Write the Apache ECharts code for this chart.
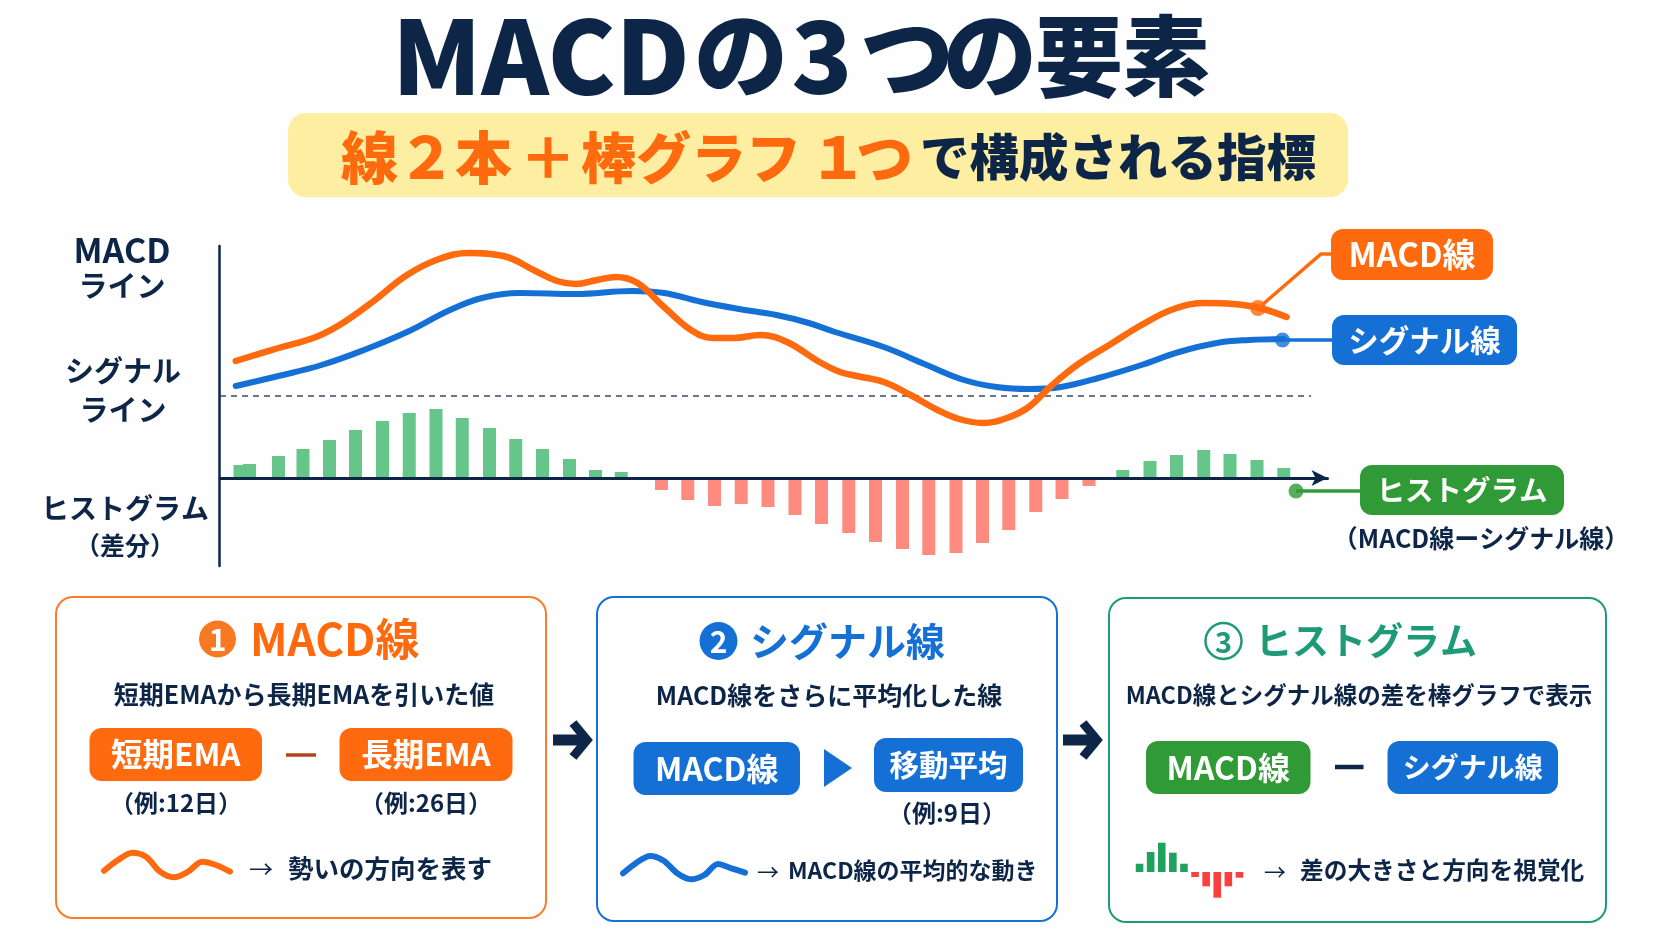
<!DOCTYPE html>
<html>
<head>
<meta charset="utf-8">
<title>MACDの3つの要素</title>
<style>
html, body { margin: 0; padding: 0; background: #fefefe; }
#chart { width: 1672px; height: 941px; }
</style>
<script src="https://cdn.jsdelivr.net/npm/echarts@6/dist/echarts.min.js"></script>
</head>
<body>
<div id="chart"></div>
<script>
// values: [period, value]
var macdLine = [[0.63,1.17],[2.34,1.30],[3.84,1.41],[4.91,1.55],[6.2,1.78],[7.48,2.03],[8.76,2.19],[9.95,2.25],[11.34,2.22],[12.62,2.07],[13.48,1.97],[14.23,1.94],[15.08,1.98],[15.84,2.01],[16.7,1.95],[17.76,1.71],[18.84,1.48],[19.7,1.40],[20.55,1.40],[21.62,1.43],[22.68,1.36],[23.98,1.16],[24.8,1.06],[25.48,1.02],[26.55,0.96],[27.62,0.83],[28.7,0.68],[29.56,0.59],[30.52,0.55],[31.48,0.60],[32.35,0.71],[33.2,0.91],[34.28,1.13],[35.57,1.33],[36.86,1.53],[38.15,1.69],[39.44,1.75],[40.51,1.74],[41.58,1.70],[42.66,1.61]];
var signalLine = [[0.63,0.92],[2.34,1.02],[4.06,1.13],[5.76,1.28],[7.48,1.46],[9.2,1.68],[10.48,1.80],[11.98,1.85],[14.23,1.84],[16.48,1.87],[17.76,1.85],[19.27,1.76],[20.76,1.69],[22.26,1.63],[23.55,1.55],[24.6,1.46],[26.55,1.31],[28.27,1.13],[29.76,0.98],[31.06,0.91],[32.35,0.89],[33.64,0.91],[35.14,1.00],[36.86,1.13],[38.36,1.26],[39.87,1.35],[41.16,1.38],[42.55,1.39]];
var histPeriods = [0.8,1.18,2.34,3.32,4.38,5.42,6.5,7.57,8.64,9.69,10.78,11.83,12.9,13.98,15.02,16.05,17.66,18.71,19.78,20.85,21.92,23,24.06,25.15,26.22,27.3,28.35,29.44,30.5,31.55,32.63,33.68,34.76,36.11,37.2,38.26,39.35,40.4,41.48,42.55];
var histValues = [0.13,0.14,0.22,0.29,0.38,0.48,0.57,0.65,0.69,0.60,0.50,0.39,0.29,0.19,0.08,0.06,-0.12,-0.22,-0.28,-0.26,-0.29,-0.37,-0.46,-0.55,-0.64,-0.71,-0.77,-0.75,-0.65,-0.52,-0.34,-0.21,-0.08,0.08,0.17,0.23,0.28,0.24,0.18,0.10];
var dashedLevel = [[0,0.82],[43.64,0.82]];
var macdDot = [[41.52,1.70]];
var signalDot = [[42.5,1.38]];
var histDot = [[43.04,-0.13]];

// small decorations inside the cards
var waveOrange = [9.3,20,27.3,23.3,8.3,2.7,8.3,18.3,15,8.3];
var waveBlue = [11.7,22.3,29,24.3,11.7,5.7,10,21,16.7,12.3];
var miniHist = [8.3,20,29.3,19.3,8.3,-5,-14.3,-25.7,-14.3,-5.7];
var miniCats = ['1','2','3','4','5','6','7','8','9','10'];

var ORANGE = '#ff6a0e', BLUE = '#1570d6', GREEN = '#2f9a36', TEAL = '#1f9a78', NAVY = '#0d2647';
var FONT = '"Noto Sans CJK JP", "Noto Sans", sans-serif';

function txt(x, y, text, size, color, align, weight) {
    return {
        type: 'text', z: 20,
        style: {
            x: x, y: y, text: text, fill: color,
            font: (weight || 'bold') + ' ' + size + 'px ' + FONT,
            align: align || 'center', verticalAlign: 'middle'
        }
    };
}
function box(x0, y0, x1, y1, color, r) {
    return {
        type: 'rect', z: 10,
        shape: { x: x0, y: y0, width: x1 - x0, height: y1 - y0, r: r || 12 },
        style: { fill: color }
    };
}
function labelBox(x0, y0, x1, y1, color, text, size) {
    return [box(x0, y0, x1, y1, color), txt((x0 + x1) / 2, (y0 + y1) / 2, text, size, '#fff')];
}
function card(x0, y0, x1, y1, color) {
    return {
        type: 'rect', z: 1,
        shape: { x: x0, y: y0, width: x1 - x0, height: y1 - y0, r: 17 },
        style: { fill: '#fff', stroke: color, lineWidth: 2 }
    };
}
function poly(points, color, width) {
    return {
        type: 'polyline', z: 9,
        shape: { points: points },
        style: { stroke: color, lineWidth: width, fill: null }
    };
}
function bigArrow(x) {
    return [
        poly([[x, 740], [x + 32, 740]], NAVY, 11),
        poly([[x + 20, 723], [x + 34, 740], [x + 20, 757]], NAVY, 9)
    ];
}

var g = [].concat(
    // header
    txt(392, 56, 'MACD', 102, NAVY, 'left', '900'),
    txt(741, 54, 'の', 94, NAVY, 'center', '900'),
    txt(822, 56, '3', 100, NAVY, 'center', '900'),
    txt(907, 56, 'つ', 94, NAVY, 'center', '900'),
    txt(990, 54, 'の', 94, NAVY, 'center', '900'),
    txt(1079, 56, '要', 88, NAVY, 'center', '900'),
    txt(1166, 56, '素', 88, NAVY, 'center', '900'),
    box(288, 113, 1348, 197, '#fdeea2', 18),
    txt(341, 157, '線２本', 57, ORANGE, 'left', '900'),
    txt(548, 157, '＋', 57, ORANGE, 'center', '900'),
    txt(581, 157, '棒グラフ', 55, ORANGE, 'left', '900'),
    txt(838, 157, '１', 57, ORANGE, 'center', '900'),
    txt(856, 157, 'つ', 57, ORANGE, 'left', '900'),
    txt(920, 157, 'で構成される指標', 49.5, NAVY, 'left', '900'),

    // axis captions
    txt(122, 250, 'MACD', 34, NAVY),
    txt(122, 286, 'ライン', 29, NAVY),
    txt(123, 371, 'シグナル', 29, NAVY),
    txt(123, 410, 'ライン', 29, NAVY),
    txt(125, 508, 'ヒストグラム', 28, NAVY),
    txt(125, 545, '（差分）', 25, NAVY),

    // callouts
    poly([[1331, 254], [1321, 254], [1262, 305]], ORANGE, 3.5),
    labelBox(1331, 229, 1493, 280, ORANGE, 'MACD線', 33),
    poly([[1283, 340], [1332, 340]], BLUE, 3.5),
    labelBox(1332, 315, 1517, 365, BLUE, 'シグナル線', 30.5),
    poly([[1296, 491], [1360, 491]], GREEN, 3.5),
    labelBox(1360, 465, 1564, 515, GREEN, 'ヒストグラム', 28.5),
    txt(1481, 538, '（MACD線ーシグナル線）', 25, NAVY),

    // card 1
    card(56, 597, 546, 918, '#ff7a2a'),
    { type: 'circle', z: 10, shape: { cx: 217.5, cy: 639, r: 18.5 }, style: { fill: '#f77a22' } },
    txt(217.5, 640, '1', 30, '#fff'),
    txt(250, 639, 'MACD線', 44, ORANGE, 'left'),
    txt(304, 694, '短期EMAから長期EMAを引いた値', 25, NAVY),
    labelBox(89.5, 728, 262, 781, ORANGE, '短期EMA', 31.5),
    poly([[286, 755], [316, 755]], '#b5431a', 3.5),
    labelBox(339.5, 728, 512.5, 781, ORANGE, '長期EMA', 31.5),
    txt(176, 803, '（例:12日）', 24, NAVY),
    txt(426, 803, '（例:26日）', 24, NAVY),
    txt(261, 869, '→', 24, NAVY, 'center', 'normal'),
    txt(288, 868, '勢いの方向を表す', 25.5, NAVY, 'left'),

    // card 2
    card(597, 597, 1057, 921, BLUE),
    { type: 'circle', z: 10, shape: { cx: 718.5, cy: 641, r: 19 }, style: { fill: BLUE } },
    txt(718.5, 642, '2', 30, '#fff'),
    txt(750, 641, 'シグナル線', 39, BLUE, 'left'),
    txt(829, 695, 'MACD線をさらに平均化した線', 25, NAVY),
    labelBox(633.5, 742, 800, 795, BLUE, 'MACD線', 32),
    { type: 'polygon', z: 10, shape: { points: [[824, 749], [852, 768], [824, 787]] }, style: { fill: BLUE } },
    labelBox(874, 738, 1023, 792, BLUE, '移動平均', 29.5),
    txt(947, 813, '（例:9日）', 24, NAVY),
    txt(768, 872, '→', 22, NAVY, 'center', 'normal'),
    txt(788, 870, 'MACD線の平均的な動き', 23, NAVY, 'left'),

    // card 3
    card(1109, 598, 1606, 922, TEAL),
    { type: 'circle', z: 10, shape: { cx: 1223.5, cy: 641, r: 18 }, style: { fill: '#fff', stroke: TEAL, lineWidth: 2.5 } },
    txt(1223.5, 642, '3', 29, TEAL),
    txt(1255, 641, 'ヒストグラム', 37, TEAL, 'left'),
    txt(1359, 695, 'MACD線とシグナル線の差を棒グラフで表示', 23.5, NAVY),
    labelBox(1146, 741, 1310.5, 794, GREEN, 'MACD線', 32),
    poly([[1335, 767], [1363.5, 767]], NAVY, 4.5),
    labelBox(1387.5, 741, 1558, 794, BLUE, 'シグナル線', 28),
    txt(1275, 872, '→', 22, NAVY, 'center', 'normal'),
    txt(1300, 870, '差の大きさと方向を視覚化', 23.7, NAVY, 'left'),

    // arrows between cards
    bigArrow(553),
    bigArrow(1063)
);

var histData = histPeriods.map(function (p, i) {
    return {
        value: [p, histValues[i]],
        itemStyle: { color: histValues[i] >= 0 ? '#66c68a' : '#ff8a80' }
    };
});
var miniData = miniHist.map(function (v) {
    return { value: v, itemStyle: { color: v >= 0 ? '#1fa35c' : '#f9403f' } };
});

function hiddenCategory(gridIndex, data, boundary) {
    return {
        type: 'category', gridIndex: gridIndex, data: data, boundaryGap: boundary,
        axisLine: { show: false }, axisTick: { show: false }, axisLabel: { show: false }, splitLine: { show: false }
    };
}
function hiddenValue(gridIndex, min, max) {
    return {
        type: 'value', gridIndex: gridIndex, min: min, max: max,
        axisLine: { show: false }, axisTick: { show: false }, axisLabel: { show: false }, splitLine: { show: false }
    };
}
function waveSeries(index, data, color) {
    return {
        type: 'line', xAxisIndex: index, yAxisIndex: index, data: data, smooth: 0.3,
        symbol: 'none', lineStyle: { color: color, width: 6, cap: 'round' }, z: 12
    };
}

var chart = echarts.init(document.getElementById('chart'));
chart.setOption({
    animation: false,
    backgroundColor: '#fefefe',
    textStyle: { fontFamily: FONT },
    graphic: g,
    grid: [
        { left: 220, top: 246, width: 1107.5, height: 320 },
        { left: 104, top: 850, width: 126, height: 30 },
        { left: 623, top: 855, width: 122, height: 30 },
        { left: 1134, top: 842, width: 111, height: 60 }
    ],
    xAxis: [
        {
            type: 'value', gridIndex: 0, min: 0, max: 44.3, z: 6,
            axisLine: {
                show: true, onZero: true, symbol: ['none', 'arrow'], symbolSize: [12, 16],
                lineStyle: { color: NAVY, width: 3 }
            },
            axisTick: { show: false }, axisLabel: { show: false }, splitLine: { show: false }
        },
        hiddenCategory(1, miniCats, false),
        hiddenCategory(2, miniCats, false),
        {
            type: 'category', gridIndex: 3, data: miniCats,
            axisLine: { show: true, lineStyle: { color: '#9fd3b4', width: 1 } },
            axisTick: { show: false }, axisLabel: { show: false }, splitLine: { show: false }
        }
    ],
    yAxis: [
        {
            type: 'value', gridIndex: 0, min: -0.88, max: 2.32, offset: 1,
            axisLine: { show: true, onZero: false, lineStyle: { color: NAVY, width: 2.5 } },
            axisTick: { show: false }, axisLabel: { show: false }, splitLine: { show: false }
        },
        hiddenValue(1, 0, 30),
        hiddenValue(2, 0, 30),
        hiddenValue(3, -30, 30)
    ],
    series: [
        {
            type: 'bar', name: 'ヒストグラム', data: histData, barWidth: 13, z: 2
        },
        {
            type: 'line', data: dashedLevel, symbol: 'none', z: 3,
            lineStyle: { color: '#3a4a68', width: 1.5, type: [6, 5] }
        },
        {
            type: 'line', name: 'シグナル線', data: signalLine, smooth: 0.4, symbol: 'none', z: 4,
            lineStyle: { color: BLUE, width: 6, cap: 'round' }
        },
        {
            type: 'line', name: 'MACD線', data: macdLine, smooth: 0.4, symbol: 'none', z: 5,
            lineStyle: { color: ORANGE, width: 6.5, cap: 'round' }
        },
        { type: 'scatter', data: macdDot, symbolSize: 16, itemStyle: { color: ORANGE }, z: 7 },
        { type: 'scatter', data: signalDot, symbolSize: 15, itemStyle: { color: BLUE }, z: 7 },
        { type: 'scatter', data: histDot, symbolSize: 15, itemStyle: { color: GREEN }, z: 7 },
        waveSeries(1, waveOrange, ORANGE),
        waveSeries(2, waveBlue, BLUE),
        {
            type: 'bar', xAxisIndex: 3, yAxisIndex: 3, data: miniData, barWidth: 7.6, z: 12
        }
    ]
});
</script>
</body>
</html>
